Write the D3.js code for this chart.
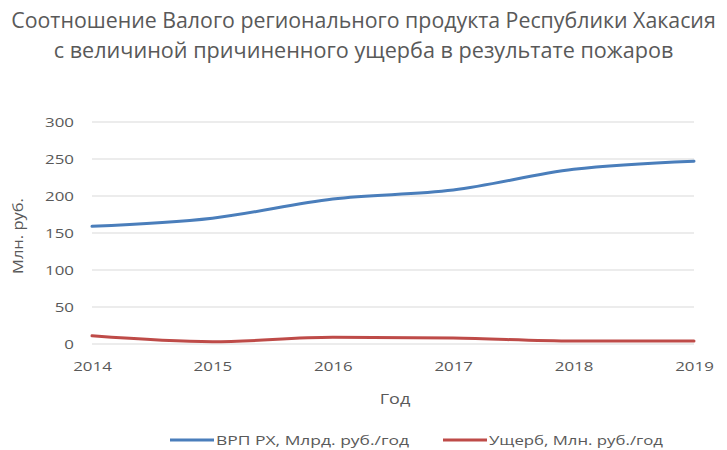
<!DOCTYPE html>
<html lang="ru">
<head>
<meta charset="utf-8">
<script src="https://cdn.jsdelivr.net/npm/d3@7/dist/d3.min.js"></script>
<style>
  html, body { margin: 0; padding: 0; background: #fff; }
  svg { display: block; font-family: "Open Sans", "Noto Sans", sans-serif; }
</style>
</head>
<body>
<svg id="chart" width="727" height="450"></svg>
<script>
// Годы наблюдения
const years = ["2014", "2015", "2016", "2017", "2018", "2019"];
// ВРП Республики Хакасия, млрд руб. в год
const grp = [159, 170, 196, 208, 236, 247];
// Ущерб от пожаров, млн руб. в год
const damage = [11, 3, 9, 8, 4, 4];
// Деления оси значений
const yTicks = [0, 50, 100, 150, 200, 250, 300];

const titleLines = [
  "Соотношение Валого регионального продукта Республики Хакасия",
  "с величиной причиненного ущерба в результате пожаров"
];
const yTitle = "Млн. руб.";
const xTitle = "Год";
const seriesNames = ["ВРП РХ, Млрд. руб./год", "Ущерб, Млн. руб./год"];
const seriesColors = ["#4a7ebb", "#be4b48"];

const svg = d3.select("#chart");
const textColor = "#595959";

// Растягивает подпись по горизонтали в заданное число раз
function stretch(sel, factor) {
  sel.each(function () {
    const w = this.getComputedTextLength();
    d3.select(this)
      .attr("textLength", w * factor)
      .attr("lengthAdjust", "spacingAndGlyphs");
  });
}

const x = d3.scalePoint().domain(years).range([92, 694]);
const y = d3.scaleLinear().domain([0, 300]).range([344, 122]);

// Заголовок: две строки по центру
const titleWidths = [705, 620];
titleLines.forEach((t, i) => {
  const el = svg.append("text")
    .attr("x", 363.5)
    .attr("y", 28 + i * 30)
    .attr("text-anchor", "middle")
    .attr("fill", textColor)
    .attr("font-size", 18)
    .text(t);
  const w = el.node().getComputedTextLength();
  el.attr("font-size", 18 * titleWidths[i] / w);
});

// Горизонтальная сетка
svg.append("g")
  .selectAll("line")
  .data(yTicks)
  .join("line")
  .attr("x1", 92).attr("x2", 694)
  .attr("y1", d => y(d)).attr("y2", d => y(d))
  .attr("stroke", "#d9d9d9")
  .attr("stroke-width", 1);

// Ось значений
const yAxis = svg.append("g")
  .attr("transform", "translate(78,0)")
  .call(d3.axisLeft(y).tickValues(yTicks).tickSize(0).tickPadding(4));
yAxis.select(".domain").remove();
yAxis.selectAll("text")
  .attr("fill", textColor)
  .attr("font-size", 13.5)
  .attr("font-family", "\"Open Sans\", sans-serif")
  .call(stretch, 1.25);

// Ось категорий
const xAxis = svg.append("g")
  .attr("transform", "translate(0,353)")
  .call(d3.axisBottom(x).tickSize(0).tickPadding(8));
xAxis.select(".domain").remove();
xAxis.selectAll("text")
  .attr("fill", textColor)
  .attr("font-size", 13.5)
  .attr("font-family", "\"Open Sans\", sans-serif")
  .call(stretch, 1.25);

// Подписи осей
svg.append("text")
  .attr("transform", "translate(23,236) rotate(-90)")
  .attr("text-anchor", "middle")
  .attr("fill", textColor)
  .attr("font-size", 15)
  .text(yTitle)
  .call(stretch, 1.1);

svg.append("text")
  .attr("x", 395).attr("y", 404)
  .attr("text-anchor", "middle")
  .attr("fill", textColor)
  .attr("font-size", 15)
  .text(xTitle)
  .call(stretch, 1.2);

// Линии рядов
const line = d3.line()
  .x((d, i) => x(years[i]))
  .y(d => y(d))
  .curve(d3.curveMonotoneX);

[grp, damage].forEach((vals, k) => {
  svg.append("path")
    .datum(vals)
    .attr("d", line)
    .attr("fill", "none")
    .attr("stroke", seriesColors[k])
    .attr("stroke-width", 3)
    .attr("stroke-linecap", "round")
    .attr("stroke-linejoin", "round");
});

// Легенда
const legendX = [170, 443];
const legendWidths = [193, 174];
seriesNames.forEach((name, k) => {
  const g = svg.append("g").attr("transform", `translate(${legendX[k]},440)`);
  g.append("line")
    .attr("x1", 0).attr("x2", 44)
    .attr("y1", 0).attr("y2", 0)
    .attr("stroke", seriesColors[k])
    .attr("stroke-width", 3);
  g.append("text")
    .attr("x", 46).attr("y", 4.5)
    .attr("fill", textColor)
    .attr("font-size", 13)
    .attr("textLength", legendWidths[k])
    .attr("lengthAdjust", "spacingAndGlyphs")
    .text(name);
});
</script>
</body>
</html>
